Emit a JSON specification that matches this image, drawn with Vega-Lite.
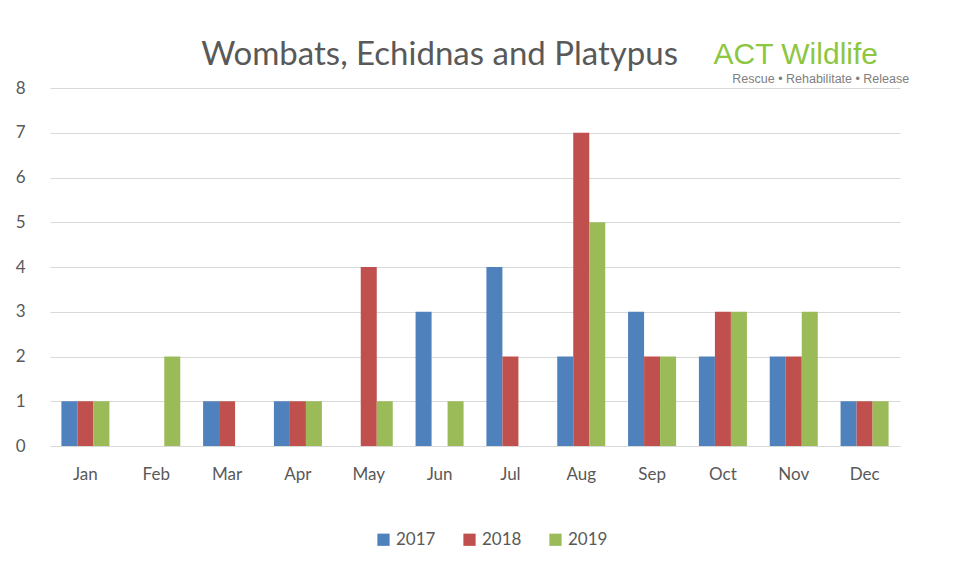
{
  "$schema": "https://vega.github.io/schema/vega-lite/v6.json",
  "width": 850,
  "height": 358,
  "autosize": {"type": "none"},
  "padding": {"left": 50, "top": 88, "right": 60, "bottom": 130},
  "background": "white",
  "data": {
    "values": [
      {"month": "Jan", "year": "2017", "count": 1}, {"month": "Jan", "year": "2018", "count": 1}, {"month": "Jan", "year": "2019", "count": 1},
      {"month": "Feb", "year": "2017", "count": 0}, {"month": "Feb", "year": "2018", "count": 0}, {"month": "Feb", "year": "2019", "count": 2},
      {"month": "Mar", "year": "2017", "count": 1}, {"month": "Mar", "year": "2018", "count": 1}, {"month": "Mar", "year": "2019", "count": 0},
      {"month": "Apr", "year": "2017", "count": 1}, {"month": "Apr", "year": "2018", "count": 1}, {"month": "Apr", "year": "2019", "count": 1},
      {"month": "May", "year": "2017", "count": 0}, {"month": "May", "year": "2018", "count": 4}, {"month": "May", "year": "2019", "count": 1},
      {"month": "Jun", "year": "2017", "count": 3}, {"month": "Jun", "year": "2018", "count": 0}, {"month": "Jun", "year": "2019", "count": 1},
      {"month": "Jul", "year": "2017", "count": 4}, {"month": "Jul", "year": "2018", "count": 2}, {"month": "Jul", "year": "2019", "count": 0},
      {"month": "Aug", "year": "2017", "count": 2}, {"month": "Aug", "year": "2018", "count": 7}, {"month": "Aug", "year": "2019", "count": 5},
      {"month": "Sep", "year": "2017", "count": 3}, {"month": "Sep", "year": "2018", "count": 2}, {"month": "Sep", "year": "2019", "count": 2},
      {"month": "Oct", "year": "2017", "count": 2}, {"month": "Oct", "year": "2018", "count": 3}, {"month": "Oct", "year": "2019", "count": 3},
      {"month": "Nov", "year": "2017", "count": 2}, {"month": "Nov", "year": "2018", "count": 2}, {"month": "Nov", "year": "2019", "count": 3},
      {"month": "Dec", "year": "2017", "count": 1}, {"month": "Dec", "year": "2018", "count": 1}, {"month": "Dec", "year": "2019", "count": 1}
    ]
  },
  "layer": [
    {
      "mark": {"type": "bar"},
      "encoding": {
        "x": {
          "field": "month",
          "type": "nominal",
          "sort": ["Jan","Feb","Mar","Apr","May","Jun","Jul","Aug","Sep","Oct","Nov","Dec"],
          "scale": {"paddingInner": 0.322, "paddingOuter": 0.161},
          "axis": {
            "title": null,
            "labelAngle": 0,
            "ticks": false,
            "domainColor": "#d9d9d9",
            "labelColor": "#595959",
            "labelFont": "Lato",
            "labelFontSize": 17,
            "labelPadding": 20
          }
        },
        "xOffset": {"field": "year", "type": "nominal", "scale": {"paddingInner": 0, "paddingOuter": 0}},
        "y": {
          "field": "count",
          "type": "quantitative",
          "scale": {"domain": [0, 8]},
          "axis": {
            "title": null,
            "tickCount": 8,
            "ticks": false,
            "domain": false,
            "gridColor": "#d9d9d9",
            "labelColor": "#595959",
            "labelFont": "Lato",
            "labelFontSize": 17,
            "labelPadding": 25
          }
        },
        "color": {
          "field": "year",
          "type": "nominal",
          "scale": {"range": ["#4F81BD", "#C0504D", "#9BBB59"]},
          "legend": {
            "title": null,
            "orient": "none",
            "direction": "horizontal",
            "legendX": 325,
            "legendY": 443,
            "symbolType": "square",
            "symbolSize": 150,
            "symbolStrokeWidth": 0,
            "symbolOpacity": 1,
            "labelFont": "Lato",
            "labelFontSize": 17,
            "labelColor": "#595959",
            "columnPadding": 25
          }
        }
      }
    },
    {
      "data": {"values": [{"t": "Wombats, Echidnas and Platypus"}]},
      "mark": {"type": "text", "font": "Lato", "fontSize": 33, "color": "#595959", "baseline": "alphabetic", "align": "center", "dx": 0},
      "encoding": {
        "text": {"field": "t"},
        "x": {"datum": "Jun"},
        "y": {"datum": 8.51}
      }
    },
    {
      "data": {"values": [{"t": "ACT Wildlife"}]},
      "mark": {"type": "text", "font": "Liberation Sans", "fontSize": 30, "color": "#8DC63F", "baseline": "alphabetic", "align": "center", "dx": 2},
      "encoding": {
        "text": {"field": "t"},
        "x": {"datum": "Nov"},
        "y": {"datum": 8.53}
      }
    },
    {
      "data": {"values": [{"t": "Rescue • Rehabilitate • Release"}]},
      "mark": {"type": "text", "font": "Liberation Sans", "fontSize": 12.5, "color": "#808080", "baseline": "alphabetic", "align": "center", "dx": 27},
      "encoding": {
        "text": {"field": "t"},
        "x": {"datum": "Nov"},
        "y": {"datum": 8.11}
      }
    }
  ],
  "config": {"view": {"stroke": null}}
}
